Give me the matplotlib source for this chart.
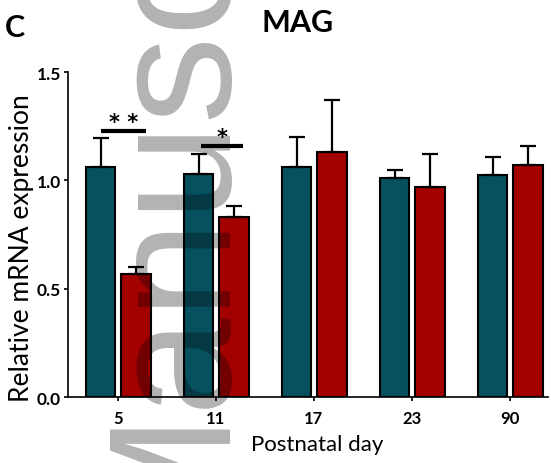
#!/usr/bin/env python3
# -*- coding: utf-8 -*-

import matplotlib
matplotlib.use("Agg")
import matplotlib.pyplot as plt
import numpy as np

plt.rcParams['font.family'] = ['Lato', 'DejaVu Sans']

# Данные
days = ["5", "11", "17", "23", "90"]
teal_mean = [1.06, 1.03, 1.06, 1.01, 1.025]
teal_sem = [0.135, 0.09, 0.14, 0.04, 0.085]
red_mean = [0.57, 0.83, 1.13, 0.97, 1.07]
red_sem = [0.03, 0.05, 0.24, 0.15, 0.09]

teal = "#06505f"
red = "#a30000"

fig = plt.figure(figsize=(5.51, 4.64), dpi=100)
ax = fig.add_axes([0.1234, 0.1422, 0.871, 0.7004])

x = np.arange(len(days))
w = 0.3
zeros = np.zeros(len(days))

err_kw = dict(ecolor="black", elinewidth=1.6, capsize=5.5, capthick=1.6)
ax.bar(x - 0.175, teal_mean, w, color=teal, edgecolor="black", linewidth=1.5,
       yerr=[zeros, teal_sem], error_kw=err_kw, zorder=2)
ax.bar(x + 0.185, red_mean, w, color=red, edgecolor="black", linewidth=1.5,
       yerr=[zeros, red_sem], error_kw=err_kw, zorder=2)

# Значимость
ax.plot([-0.173, 0.286], [1.228, 1.228], color="black", lw=3, solid_capstyle="butt")
ax.text(0.06, 1.27, "* *", ha="center", va="center", fontsize=15,
        fontweight="bold", family="DejaVu Sans")
ax.plot([0.847, 1.276], [1.158, 1.158], color="black", lw=3, solid_capstyle="butt")
ax.text(1.06, 1.198, "*", ha="center", va="center", fontsize=15,
        fontweight="bold", family="DejaVu Sans")

ax.set_xlim(-0.51, 4.39)
ax.set_ylim(0, 1.5)
ax.set_xticks(x)
ax.set_xticklabels(days, fontsize=12, fontweight="bold")
ax.set_yticks([0, 0.5, 1.0, 1.5])
ax.set_yticklabels(["0.0", "0.5", "1.0", "1.5"], fontsize=12.5, fontweight="bold")
ax.tick_params(axis="both", length=3, width=1.2, pad=2)
ax.tick_params(axis="x", pad=6)
for s in ["top", "right"]:
    ax.spines[s].set_visible(False)
for s in ["left", "bottom"]:
    ax.spines[s].set_linewidth(1.2)

ax.set_xlabel("Postnatal day", fontsize=16)
ax.set_ylabel("Relative mRNA expression", fontsize=19)
ax.xaxis.set_label_coords(0.52, -0.115)
ax.yaxis.set_label_coords(-0.07, 0.46)

fig.text(0.54, 0.93, "MAG", ha="center", va="baseline", fontsize=22, fontweight="bold")
fig.text(0.008, 0.92, "C", ha="left", va="baseline", fontsize=22, fontweight="bold")

# Водяной знак
fig.text(217 / 551, (464 - 546) / 464, "Manuscript", rotation=90,
         rotation_mode="anchor", ha="left", va="baseline",
         family="Liberation Sans", fontsize=126, color="black", alpha=0.3,
         zorder=10)

fig.savefig("out.png", dpi=100)
